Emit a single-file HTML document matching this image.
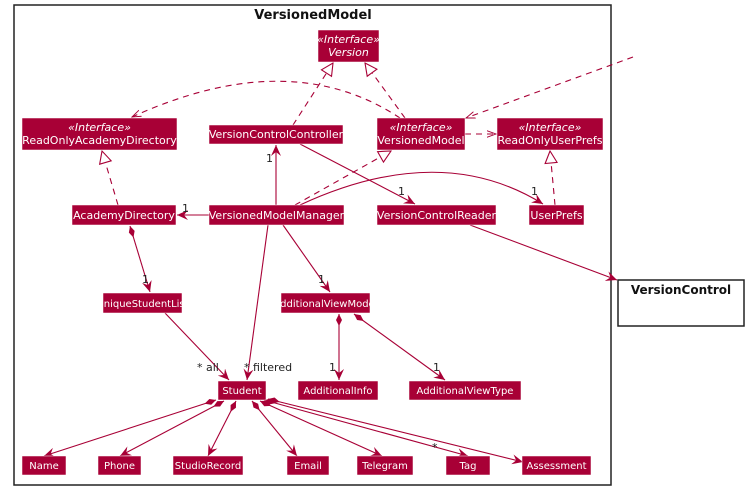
<!DOCTYPE html>
<html><head><meta charset="utf-8"><style>
html,body{margin:0;padding:0;background:#fff;}
svg{display:block;}
text{font-family:"DejaVu Sans","Liberation Sans",sans-serif;}
.n{fill:#A80036;stroke:#fff;stroke-width:0.5;}
.t{fill:#fff;font-size:11px;text-anchor:middle;}
.i{fill:#fff;font-size:11px;text-anchor:middle;font-style:italic;}
.l{stroke:#A80036;stroke-width:1.1;fill:none;}
.d{stroke:#A80036;stroke-width:1.1;fill:none;stroke-dasharray:6,5;}
.lb{font-size:11px;fill:#222;}
</style></head><body>
<svg width="752" height="490" viewBox="0 0 752 490">
<defs>
<marker id="a" viewBox="0 0 12 10" refX="11" refY="5" markerWidth="12" markerHeight="10" markerUnits="userSpaceOnUse" orient="auto"><path d="M0,0 L11,5 L0,10 L4,5 Z" fill="#A80036"/></marker>
<marker id="o" viewBox="0 0 12 10" refX="11" refY="5" markerWidth="10" markerHeight="10" markerUnits="userSpaceOnUse" orient="auto"><path d="M0,1 L11,5 L0,9" fill="none" stroke="#A80036" stroke-width="1.1"/></marker>
<marker id="tri" viewBox="0 0 14 14" refX="13" refY="7" markerWidth="14" markerHeight="14" markerUnits="userSpaceOnUse" orient="auto"><path d="M1,1 L13,7 L1,13 Z" fill="#fff" stroke="#A80036" stroke-width="1.1"/></marker>
<marker id="dia" viewBox="0 0 14 8" refX="1" refY="4" markerWidth="14" markerHeight="8" markerUnits="userSpaceOnUse" orient="auto"><path d="M1,4 L7,1 L13,4 L7,7 Z" fill="#A80036"/></marker>
</defs>
<rect x="14" y="5" width="597" height="480" fill="none" stroke="#222" stroke-width="1.5"/>
<text x="313" y="19" font-size="13" font-weight="bold" text-anchor="middle" fill="#111">VersionedModel</text>

<rect x="618" y="280" width="126" height="46" fill="#fff" stroke="#222" stroke-width="1.5"/>
<text x="681" y="294" font-size="12" font-weight="bold" text-anchor="middle" fill="#111">VersionControl</text>

<!-- connectors -->
<path class="d" d="M293,125 L333,63" marker-end="url(#tri)"/>
<path class="d" d="M405,118 L365,63" marker-end="url(#tri)"/>
<path class="d" d="M400,118 Q290,45 132,117" marker-end="url(#o)"/>
<path class="d" d="M633,57 L466,118" marker-end="url(#o)"/>
<path class="d" d="M465,134 L496,134" marker-end="url(#o)"/>
<path class="d" d="M555,205 L550,151" marker-end="url(#tri)"/>
<path class="d" d="M118,205 L102,151" marker-end="url(#tri)"/>
<path class="d" d="M295,205 L391,151" marker-end="url(#tri)"/>
<path class="l" d="M300,205 Q440,140 543,204" marker-end="url(#a)"/>
<path class="l" d="M300,144 L415,204" marker-end="url(#a)"/>
<path class="l" d="M276,205 L276,145" marker-end="url(#a)"/>
<path class="l" d="M209,215 L177,215" marker-end="url(#a)"/>
<path class="l" d="M130,226 L150,292" marker-start="url(#dia)" marker-end="url(#a)"/>
<path class="l" d="M283,225 L330,292" marker-end="url(#a)"/>
<path class="l" d="M268,225 L247,380" marker-end="url(#a)"/>
<path class="l" d="M165,313 L229,380" marker-end="url(#a)"/>
<path class="l" d="M339,314 L339,380" marker-start="url(#dia)" marker-end="url(#a)"/>
<path class="l" d="M354,314 L445,380" marker-start="url(#dia)" marker-end="url(#a)"/>
<path class="l" d="M470,225 L617,280" marker-end="url(#a)"/>
<path class="l" d="M216,400 L44,456" marker-start="url(#dia)" marker-end="url(#a)"/>
<path class="l" d="M224,401 L120,456" marker-start="url(#dia)" marker-end="url(#a)"/>
<path class="l" d="M236,401 L208,456" marker-start="url(#dia)" marker-end="url(#a)"/>
<path class="l" d="M252,401 L297,456" marker-start="url(#dia)" marker-end="url(#a)"/>
<path class="l" d="M260,401 L382,456" marker-start="url(#dia)" marker-end="url(#a)"/>
<path class="l" d="M264,400 L468,456" marker-start="url(#dia)" marker-end="url(#a)"/>
<path class="l" d="M268,399 L523,462" marker-start="url(#dia)" marker-end="url(#a)"/>

<!-- labels -->
<text class="lb" x="266" y="162">1</text>
<text class="lb" x="182" y="212">1</text>
<text class="lb" x="398" y="195">1</text>
<text class="lb" x="531" y="195">1</text>
<text class="lb" x="142" y="283">1</text>
<text class="lb" x="318" y="283">1</text>
<text class="lb" x="197" y="371">* all</text>
<text class="lb" x="244" y="371">* filtered</text>
<text class="lb" x="329" y="371">1</text>
<text class="lb" x="433" y="371">1</text>
<text class="lb" x="432" y="451">*</text>

<!-- nodes -->
<rect class="n" x="318" y="30" width="61" height="32"/>
<text class="i" x="348.5" y="43">«Interface»</text><text class="i" x="348.5" y="56">Version</text>
<rect class="n" x="22" y="118" width="155" height="32"/>
<text class="i" x="99.5" y="131">«Interface»</text><text class="t" x="99.5" y="144">ReadOnlyAcademyDirectory</text>
<rect class="n" x="209" y="125" width="134" height="19"/>
<text class="t" x="276" y="138">VersionControlController</text>
<rect class="n" x="377" y="118" width="88" height="32"/>
<text class="i" x="421" y="131">«Interface»</text><text class="t" x="421" y="144">VersionedModel</text>
<rect class="n" x="497" y="118" width="106" height="32"/>
<text class="i" x="550" y="131">«Interface»</text><text class="t" x="550" y="144">ReadOnlyUserPrefs</text>
<rect class="n" x="72" y="205" width="104" height="20"/>
<text class="t" x="124" y="219">AcademyDirectory</text>
<rect class="n" x="209" y="205" width="135" height="20"/>
<text class="t" x="276.5" y="219">VersionedModelManager</text>
<rect class="n" x="377" y="205" width="119" height="20"/>
<text class="t" x="436.5" y="219">VersionControlReader</text>
<rect class="n" x="529" y="205" width="55" height="20"/>
<text class="t" x="556.5" y="219">UserPrefs</text>
<rect class="n" x="103" y="293" width="79" height="20"/>
<text class="t" x="142.5" y="307" style="font-size:10px">UniqueStudentList</text>
<rect class="n" x="281" y="293" width="89" height="20"/>
<text class="t" x="325.5" y="307" style="font-size:10px">AdditionalViewModel</text>
<rect class="n" x="218" y="381" width="48" height="19"/>
<text class="t" x="242" y="394" style="font-size:10px">Student</text>
<rect class="n" x="298" y="381" width="80" height="19"/>
<text class="t" x="338" y="394" style="font-size:10px">AdditionalInfo</text>
<rect class="n" x="409" y="381" width="112" height="19"/>
<text class="t" x="465" y="394" style="font-size:10px">AdditionalViewType</text>
<rect class="n" x="22" y="456" width="44" height="19"/>
<text class="t" x="44" y="469" style="font-size:10px">Name</text>
<rect class="n" x="98" y="456" width="43" height="19"/>
<text class="t" x="119.5" y="469" style="font-size:10px">Phone</text>
<rect class="n" x="173" y="456" width="70" height="19"/>
<text class="t" x="208" y="469" style="font-size:10px">StudioRecord</text>
<rect class="n" x="287" y="456" width="42" height="19"/>
<text class="t" x="308" y="469" style="font-size:10px">Email</text>
<rect class="n" x="357" y="456" width="56" height="19"/>
<text class="t" x="385" y="469" style="font-size:10px">Telegram</text>
<rect class="n" x="446" y="456" width="44" height="19"/>
<text class="t" x="468" y="469" style="font-size:10px">Tag</text>
<rect class="n" x="522" y="456" width="69" height="19"/>
<text class="t" x="556.5" y="469" style="font-size:10px">Assessment</text>
</svg>
</body></html>
